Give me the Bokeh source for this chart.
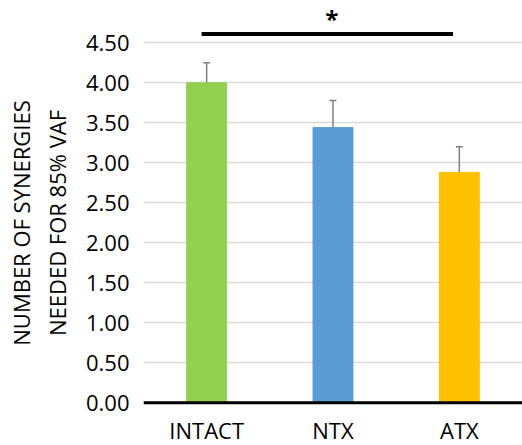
from bokeh.plotting import figure
from bokeh.models import ColumnDataSource, Whisker, TeeHead, FixedTicker, Span, Range1d
from bokeh.core.properties import value
from bokeh.embed import file_html
from bokeh.resources import INLINE

categories = ["INTACT", "NTX", "ATX"]
means = [4.00, 3.44, 2.88]
errors = [0.25, 0.34, 0.32]
colors = ["#92D050", "#5B9BD5", "#FFC000"]
y_ticks = [0.0, 0.5, 1.0, 1.5, 2.0, 2.5, 3.0, 3.5, 4.0, 4.5]
y_title = "NUMBER OF SYNERGIES\nNEEDED FOR 85% VAF"
sig_from, sig_to, sig_level = 0.96, 2.95, 4.61
sig_mark, sig_mark_x, sig_mark_y = "*", 1.99, 4.80
cat_label_y = -0.34

FONT = "Open Sans"
xs = [i + 1 for i in range(len(categories))]
src = ColumnDataSource(dict(x=xs, top=means, color=colors,
                            upper=[m + e for m, e in zip(means, errors)]))
lab = ColumnDataSource(dict(x=xs, y=[cat_label_y] * len(xs), text=categories))

p = figure(width=522, height=445, output_backend="svg", toolbar_location=None,
           x_range=Range1d(0.5, 3.5), y_range=Range1d(-0.534, 5.029),
           min_border_left=143, min_border_right=0, min_border_top=0,
           min_border_bottom=0)
p.outline_line_color = None
p.background_fill_color = "white"
p.border_fill_color = "white"
p.xaxis.visible = False

p.vbar(x="x", top="top", bottom=0, width=0.316, color="color", source=src)
p.add_layout(Whisker(base="x", lower="top", upper="upper", source=src,
                     dimension="height", line_color="#808080", line_width=1.5,
                     lower_head=None,
                     upper_head=TeeHead(size=7, line_color="#808080", line_width=1.5)))
p.add_layout(Span(location=0, dimension="width", line_color="black", line_width=3))

p.text(x="x", y="y", text="text", source=lab, text_font=value(FONT),
       text_font_size="22px", text_align="center", text_baseline="middle",
       text_color="black")

p.line(x=[sig_from, sig_to], y=[sig_level, sig_level], line_color="black", line_width=4)
p.text(x=[sig_mark_x], y=[sig_mark_y], text=[sig_mark],
       text_font=value(FONT), text_font_style="bold", text_font_size="24px",
       text_align="center", text_baseline="middle", text_color="black")

p.yaxis.ticker = FixedTicker(ticks=y_ticks)
p.yaxis.major_label_overrides = {t: f"{t:.2f}" for t in y_ticks}
p.yaxis.major_tick_line_color = None
p.yaxis.major_tick_out = 0
p.yaxis.major_tick_in = 0
p.yaxis.minor_tick_line_color = None
p.yaxis.axis_line_color = None
p.yaxis.major_label_text_font = FONT
p.yaxis.major_label_text_font_size = "22px"
p.yaxis.major_label_text_color = "black"
p.yaxis.major_label_standoff = 14
p.yaxis.axis_label = y_title
p.yaxis.axis_label_text_font = FONT
p.yaxis.axis_label_text_font_size = "22px"
p.yaxis.axis_label_text_font_style = "normal"
p.yaxis.axis_label_text_color = "black"
p.yaxis.axis_label_standoff = 11

p.xgrid.grid_line_color = None
p.ygrid.grid_line_color = "#d9d9d9"
p.ygrid.grid_line_width = 1.5

open("out.html", "w").write(file_html(p, INLINE))
